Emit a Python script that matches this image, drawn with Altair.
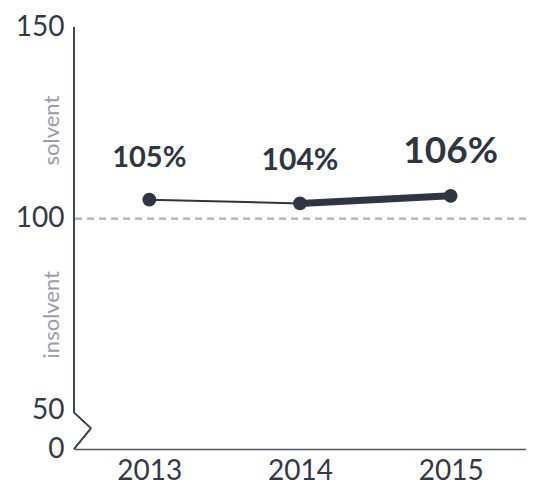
import altair as alt
import pandas as pd

years = ["2013", "2014", "2015"]
ratio = [105, 104, 106]
y_ticks = [40, 50, 100, 150]
zones = ["solvent", "insolvent"]
zone_pos = [123, 75]

DARK = "#2f3642"
AXIS = "#3e4450"
FONT = "Lato"

df = pd.DataFrame({"year": years, "ratio": ratio})
seg = pd.DataFrame({
    "y0": years[:-1], "y1": years[1:],
    "v0": ratio[:-1], "v1": ratio[1:],
    "seg": [f"{a}-{b}" for a, b in zip(years[:-1], years[1:])],
})
zdf = pd.DataFrame({"zone": zones, "pos": zone_pos})

xscale = alt.Scale(type="point", padding=0.5, domain=years)
yscale = alt.Scale(domain=[40, 150], nice=False, zero=False)

xenc = alt.X("year:N", scale=xscale, sort=years,
             axis=alt.Axis(title=None, labelAngle=0, labelAlign="center", labelBaseline="top"))
yenc = alt.Y("ratio:Q", scale=yscale,
             axis=alt.Axis(title=None, values=y_ticks,
                           labelExpr="datum.value == 40 ? '0' : datum.label"))

base = alt.Chart(df)

dash = base.mark_rule(strokeDash=[7, 5], color="#b8b8b8", strokeWidth=2).encode(
    y=alt.datum(100))

yline = base.mark_rule(color=AXIS, strokeWidth=1.5).encode(
    x=alt.value(0), y=alt.datum(150), y2=alt.datum(49.5))
zig1 = base.mark_rule(color=AXIS, strokeWidth=1.5).encode(
    x=alt.value(0), x2=alt.value(17), y=alt.datum(49.5), y2=alt.datum(45.4))
zig2 = base.mark_rule(color=AXIS, strokeWidth=1.5).encode(
    x=alt.value(17), x2=alt.value(0), y=alt.datum(45.4), y2=alt.datum(40))

lines = alt.Chart(seg).mark_rule(color=DARK, strokeCap="round").encode(
    x=alt.X("y0:N", scale=xscale), x2="y1:N",
    y=alt.Y("v0:Q", scale=yscale), y2="v1:Q",
    strokeWidth=alt.StrokeWidth("seg:O", scale=alt.Scale(range=[2, 7]), legend=None))

points = base.mark_circle(size=190, opacity=1, color=DARK).encode(x=xenc, y=yenc)

labels = base.transform_calculate(lbl="datum.ratio + '%'").mark_text(
    dy=-33, baseline="alphabetic", fontWeight="bold", font=FONT, color=DARK).encode(
    x=alt.X("year:N", scale=xscale), y=alt.Y("ratio:Q", scale=yscale),
    text="lbl:N",
    size=alt.Size("year:O", scale=alt.Scale(type="ordinal", domain=years, range=[29, 30, 37]),
                  legend=None))

ann = alt.Chart(zdf).mark_text(angle=270, font=FONT, fontSize=22,
                               color="#9a9da4", baseline="middle").encode(
    x=alt.value(-22), y=alt.Y("pos:Q", scale=yscale), text="zone:N")

chart = alt.layer(dash, yline, zig1, zig2, lines, points, labels, ann).properties(
    width=452, height=422,
    autosize=alt.AutoSizeParams(type="none"),
    padding={"left": 66, "top": 19, "right": 0, "bottom": 39},
).configure(background="white").configure_view(stroke=None).configure_axis(
    grid=False, ticks=False, labelFont=FONT, labelFontSize=28, labelColor="#343a45",
    title=None,
).configure_axisX(
    domainColor="#50565f", domainWidth=1.5, labelPadding=8, labelAngle=0,
).configure_axisY(
    domain=False, labelPadding=10,
)

chart.save("out.html", embed_options={"renderer": "svg", "actions": False})
